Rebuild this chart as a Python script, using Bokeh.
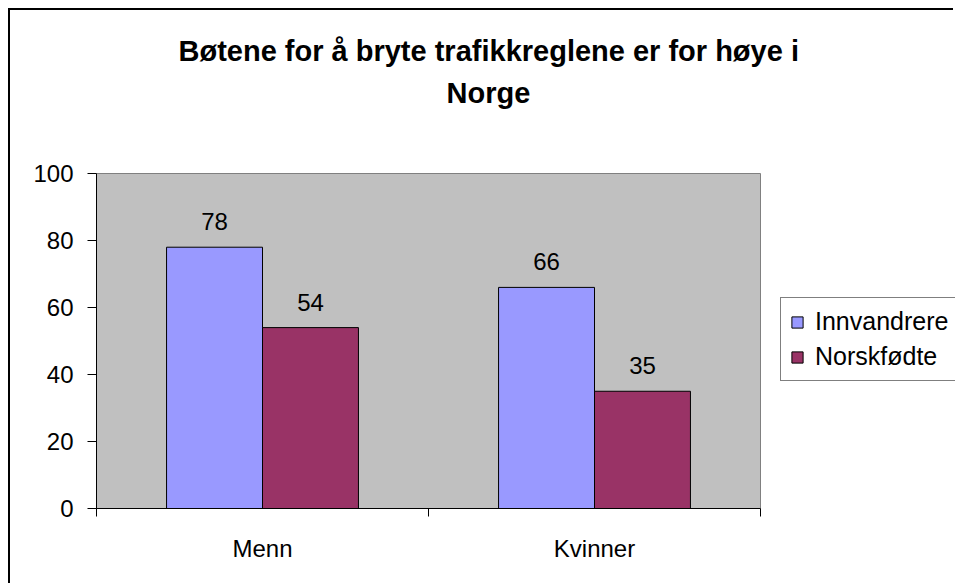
from bokeh.plotting import figure
from bokeh.models import (ColumnDataSource, LinearAxis, FixedTicker,
                          LabelSet, Title, Range1d)
from bokeh.core.properties import value
from bokeh.transform import dodge
from bokeh.embed import file_html
from bokeh.resources import INLINE

# ---- data ----
categories = ["Menn", "Kvinner"]
series_names = ["Innvandrere", "Norskfødte"]
innvandrere = [78, 66]
norskfodte = [54, 35]
y_ticks = [0, 20, 40, 60, 80, 100]
title_lines = ["Bøtene for å bryte trafikkreglene er for høye i", "Norge"]

colors = ["#9999FF", "#993366"]
FONT = "Liberation Sans"

ncat = len(categories)
centers = [i + 0.5 for i in range(ncat)]          # category slots on the x scale
bounds = [float(i) for i in range(ncat + 1)]      # slot boundaries

source = ColumnDataSource(dict(
    xc=centers,
    cats=categories,
    innv=innvandrere,
    norsk=norskfodte,
    innv_txt=[str(v) for v in innvandrere],
    norsk_txt=[str(v) for v in norskfodte],
))

# the frame runs to the right edge so the legend (as in the original) sits beside the plot area
x_end = ncat * (955 - 96) / (760 - 96)
p = figure(width=945, height=575, x_range=Range1d(0, x_end), y_range=Range1d(0, 100.3),
           output_backend="svg", toolbar_location=None,
           x_axis_type=None, y_axis_type=None,
           min_border_left=86, min_border_top=162, min_border_right=0, min_border_bottom=77)
p.styles = {"margin-left": "8px", "margin-top": "8px",
            "border-left": "2px solid black", "border-top": "2px solid black"}
p.background_fill_color = "white"
p.border_fill_color = "white"
p.outline_line_color = None
p.xgrid.visible = False
p.ygrid.visible = False

# grey plot area
p.quad(left=[bounds[0]], right=[bounds[-1]], bottom=[y_ticks[0]], top=[y_ticks[-1]],
       fill_color="#C0C0C0", line_color="#808080", line_width=1)

bw = 0.289
p.vbar(x=dodge("xc", -bw / 2), top="innv", width=bw, source=source,
       fill_color=colors[0], line_color="black", line_width=1, legend_label=series_names[0])
p.vbar(x=dodge("xc", bw / 2), top="norsk", width=bw, source=source,
       fill_color=colors[1], line_color="black", line_width=1, legend_label=series_names[1])

for col, off in (("innv", -bw / 2), ("norsk", bw / 2)):
    p.add_layout(LabelSet(x=dodge("xc", off), y=col, text=col + "_txt",
                          source=source, text_align="center", text_baseline="alphabetic",
                          y_offset=17, text_font=value(FONT), text_font_size=value("24px"),
                          text_color="black"))

# y axis
yax = LinearAxis(ticker=FixedTicker(ticks=y_ticks))
yax.axis_line_color = "black"
yax.major_tick_in = 0
yax.major_tick_out = 9
yax.minor_tick_line_color = None
yax.major_label_standoff = 14
yax.major_label_text_font = FONT
yax.major_label_text_font_size = "24px"
yax.major_label_text_color = "black"
yax.bounds = (y_ticks[0], y_ticks[-1])
p.add_layout(yax, "left")

# x axis: labels at category centers, tick marks at category boundaries
xax = LinearAxis(ticker=FixedTicker(ticks=centers, minor_ticks=bounds),
                 major_label_overrides={c: name for c, name in zip(centers, categories)})
xax.bounds = (bounds[0], bounds[-1])
xax.axis_line_color = "black"
xax.major_tick_line_color = None
xax.major_tick_out = 0
xax.major_tick_in = 0
xax.minor_tick_in = 0
xax.minor_tick_out = 8
xax.minor_tick_line_color = "black"
xax.major_label_standoff = 18
xax.major_label_text_font = FONT
xax.major_label_text_font_size = "24px"
xax.major_label_text_color = "black"
p.add_layout(xax, "below")

# title (two lines, bold); side panels stack outward from the frame
title_style = dict(text_font=FONT, text_font_size="29px", text_font_style="bold",
                   text_color="black", align="left")
p.add_layout(Title(text=" ", offset=0, standoff=25, **title_style), "above")   # spacer
p.add_layout(Title(text=title_lines[1], offset=350, standoff=9, **title_style), "above")
p.add_layout(Title(text=title_lines[0], offset=82, standoff=8, **title_style), "above")

# legend (box runs past the right edge, as in the original)
lg = p.legend[0]
lg.location = (684, 127)
lg.border_line_color = "black"
lg.border_line_width = 1
lg.background_fill_color = "white"
lg.background_fill_alpha = 1
lg.padding = 9
lg.margin = 0
lg.spacing = 6
lg.glyph_width = 14
lg.glyph_height = 14
lg.label_height = 28
lg.label_width = 150
lg.label_standoff = 11
lg.label_text_font = FONT
lg.label_text_font_size = "25px"
lg.label_text_color = "black"

open("out.html", "w").write(file_html(p, INLINE))
